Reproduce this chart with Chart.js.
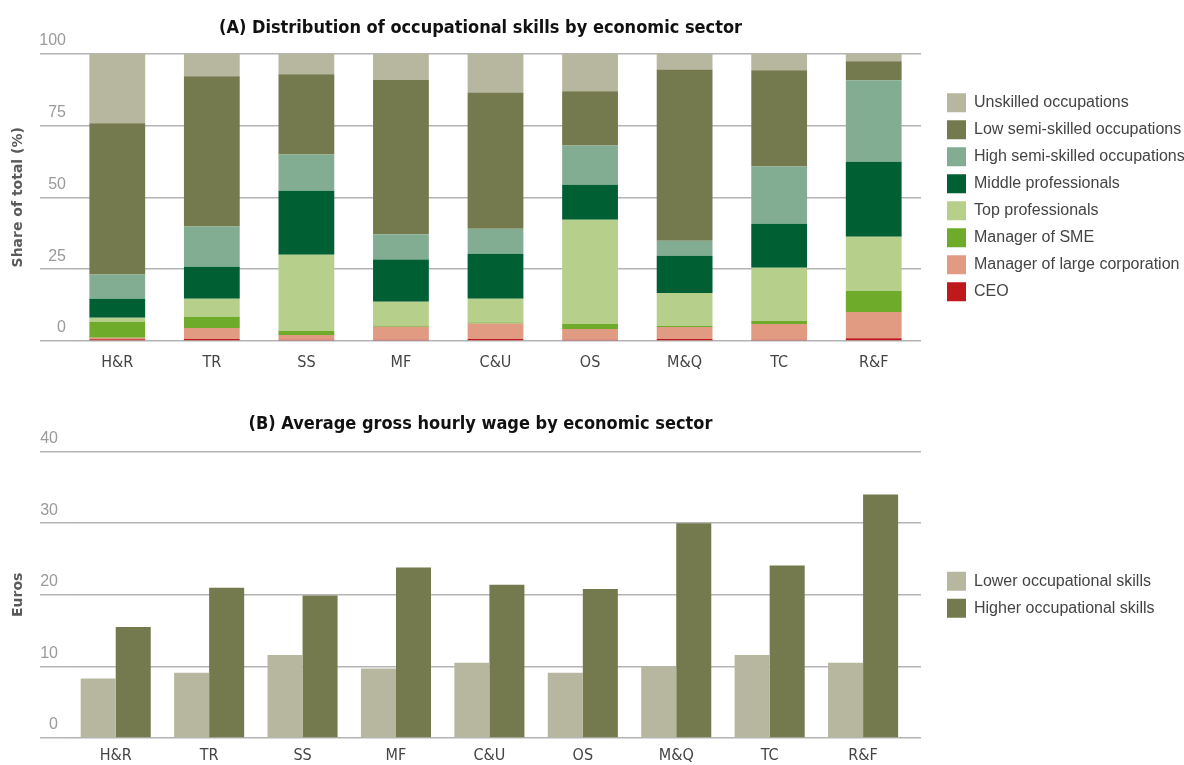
<!DOCTYPE html>
<html>
<head>
<meta charset="utf-8">
<script src="https://cdn.jsdelivr.net/npm/chart.js@4.4.1/dist/chart.umd.min.js"></script>
<style>
  html, body { margin: 0; padding: 0; background: #fff; }
  canvas { display: block; }
</style>
</head>
<body>
<canvas id="skills-chart" width="1184" height="390"></canvas>
<canvas id="wage-chart" width="1184" height="375"></canvas>
<script>
// ─── data ────────────────────────────────────────────
const sectors = ['H&R', 'TR', 'SS', 'MF', 'C&U', 'OS', 'M&Q', 'TC', 'R&F'];

// (A) share of total, %, bottom of stack first
const ceo        = [0.6, 0.7, 0.4, 0.4, 0.7, 0.4, 0.7, 0.4, 1.0];
const largeCorp  = [0.5, 3.8, 1.7, 4.6, 5.4, 3.8, 4.2, 5.5, 9.1];
const smeManager = [5.6, 3.9, 1.4, 0.3, 0.3, 1.7, 0.3, 1.1, 7.3];
const topProf    = [1.4, 6.3, 26.5, 8.4, 8.3, 36.3, 11.5, 18.5, 18.9];
const middleProf = [6.6, 11.1, 22.3, 14.7, 15.7, 12.2, 13.0, 15.3, 26.1];
const highSemi   = [8.4, 14.0, 12.6, 8.7, 8.7, 13.6, 5.2, 19.9, 28.3];
const lowSemi    = [52.7, 52.3, 27.9, 53.7, 47.4, 18.9, 59.6, 33.5, 6.6];
const unskilled  = [24.2, 7.9, 7.2, 9.2, 13.5, 13.1, 5.5, 5.8, 2.7];
const shareTicks = [0, 25, 50, 75, 100];

// (B) average gross hourly wage, euros
const lowerSkills  = [8.3, 9.1, 11.6, 9.7, 10.5, 9.1, 10.0, 11.6, 10.5];
const higherSkills = [15.5, 21.0, 19.9, 23.8, 21.4, 20.8, 30.0, 24.1, 34.0];
const euroTicks = [0, 10, 20, 30, 40];

// ─── common style ────────────────────────────────────
const GRID = '#b4b4b4';
const NARROW = "'Liberation Sans Narrow', 'DejaVu Sans Condensed', sans-serif";
Chart.defaults.font.family = "'Liberation Sans', Arial, sans-serif";

// legend at a fixed width on the right, title centred over the full grid width
const sideBoxes = {
  id: 'sideBoxes',
  beforeInit(chart) {
    const fit = chart.legend.fit;
    chart.legend.fit = function () { fit.call(this); this.width = 263; };
  },
  afterLayout(chart) {
    chart.legend.left += 18;
    chart.titleBlock.left = 40;
  },
};

function baseOpts(o) {
  return {
    responsive: false,
    animation: false,
    layout: { padding: 0 },
    plugins: {
      title: {
        display: true, text: o.title, fullSize: false,
        color: '#111', font: { family: NARROW, size: 18, weight: 'bold' },
        padding: o.titlePad,
      },
      legend: {
        position: 'right', fullSize: false, reverse: !!o.reverse,
        labels: { boxWidth: 19, boxHeight: 19, padding: 8, color: '#444', font: { size: 16 } },
      },
      tooltip: { enabled: false },
    },
    scales: {
      x: {
        stacked: !!o.stacked,
        grid: { display: false },
        border: { display: false },
        ticks: { color: '#444', font: { family: NARROW, size: 16 }, padding: o.xPad },
        afterFit: s => { s.height = o.xHeight; },
        // slightly narrower category slots where the source chart has them
        afterUpdate: s => { if (o.xRange) s._valueRange = o.xRange; },
      },
      y: {
        stacked: !!o.stacked,
        min: 0, max: o.max,
        afterBuildTicks: s => { s.ticks = o.ticks.map(v => ({ value: v })); },
        grid: { color: GRID, lineWidth: 1.5, drawTicks: true, tickLength: o.yTick },
        border: { display: false },
        ticks: { color: '#9a9a9a', font: { size: 16 }, padding: o.yPad, labelOffset: -13 },
        title: {
          display: true, text: o.yTitle, color: '#5a5a5a',
          font: { family: "'DejaVu Sans', sans-serif", size: 14, weight: 'bold' },
          padding: { top: 10, bottom: 0 },
        },
        afterFit: s => { s.width = o.yWidth; },
      },
    },
  };
}

// ─── (A) stacked bars ────────────────────────────────
const skillSeries = [
  ['CEO', ceo, '#c0191b'],
  ['Manager of large corporation', largeCorp, '#e29b83'],
  ['Manager of SME', smeManager, '#6fab2a'],
  ['Top professionals', topProf, '#b6cf8b'],
  ['Middle professionals', middleProf, '#005f33'],
  ['High semi-skilled occupations', highSemi, '#82ad92'],
  ['Low semi-skilled occupations', lowSemi, '#747a4d'],
  ['Unskilled occupations', unskilled, '#b7b79f'],
];

new Chart(document.getElementById('skills-chart'), {
  type: 'bar',
  data: {
    labels: sectors,
    datasets: skillSeries.map(([label, data, color]) => ({
      label, data, backgroundColor: color, borderWidth: 0,
      categoryPercentage: 1, barPercentage: 0.59,
    })),
  },
  options: baseOpts({
    title: '(A) Distribution of occupational skills by economic sector',
    titlePad: { top: 18, bottom: 14 },
    stacked: true, reverse: true,
    max: 100, ticks: shareTicks,
    yTitle: 'Share of total (%)', yWidth: 70, yTick: 30, yPad: -26,
    xHeight: 49, xPad: 4,
  }),
  plugins: [sideBoxes],
});

// ─── (B) grouped bars ────────────────────────────────
new Chart(document.getElementById('wage-chart'), {
  type: 'bar',
  data: {
    labels: sectors,
    datasets: [
      { label: 'Lower occupational skills', data: lowerSkills, backgroundColor: '#b7b79f',
        borderWidth: 0, categoryPercentage: 0.75, barPercentage: 1 },
      { label: 'Higher occupational skills', data: higherSkills, backgroundColor: '#747a4d',
        borderWidth: 0, categoryPercentage: 0.75, barPercentage: 1 },
    ],
  },
  options: baseOpts({
    title: '(B) Average gross hourly wage by economic sector',
    titlePad: { top: 24, bottom: 16 },
    max: 40, ticks: euroTicks,
    yTitle: 'Euros', yWidth: 69, yTick: 29, yPad: -18,
    xHeight: 27, xPad: 0, xRange: 9.12,
  }),
  plugins: [sideBoxes],
});
</script>
</body>
</html>
